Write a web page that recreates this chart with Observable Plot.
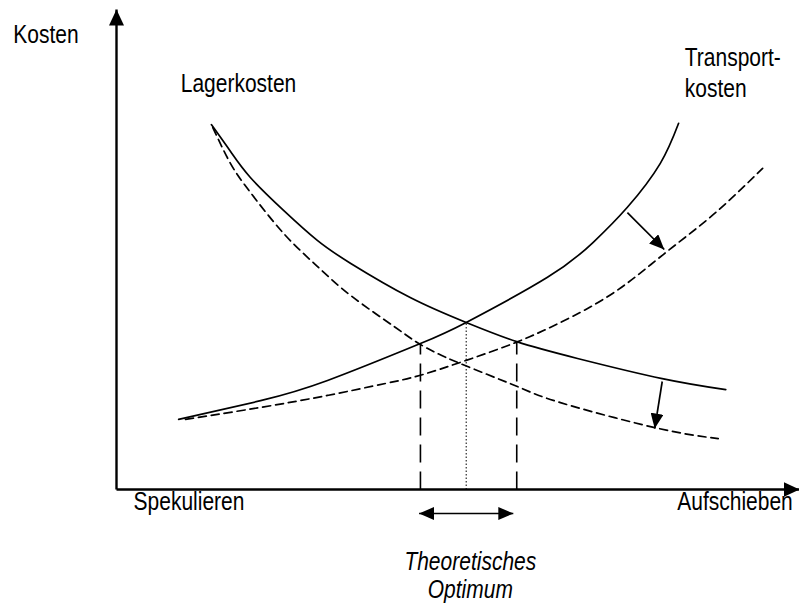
<!DOCTYPE html>
<html><head><meta charset="utf-8">
<script src="https://cdn.jsdelivr.net/npm/d3@7"></script>
<script src="https://cdn.jsdelivr.net/npm/@observablehq/plot@0.6"></script>
<style>
body{margin:0;background:#fff}
#chart svg{display:block;background:#fff}
</style>
</head><body><div id="chart"></div>
<script>
// --- data (conceptual units: x = Spekulieren → Aufschieben 0..100, y = Kosten 0..100)
const lagerX      = [13.9, 16.7, 19.6, 24.5, 29.4, 34.3, 43.0, 51.2, 58.6, 67.5, 79.9, 89.2];
const lagerY      = [76.0, 70.4, 65.0, 58.1, 51.9, 47.1, 40.0, 34.8, 30.8, 27.3, 23.1, 20.8];
const lagerNeuX   = [14.1, 16.7, 19.6, 24.5, 29.4, 34.3, 40.8, 44.5, 49.9, 58.6, 65.0, 78.8, 88.1];
const lagerNeuY   = [75.4, 67.9, 61.9, 53.3, 46.5, 40.4, 33.8, 30.2, 26.5, 21.5, 18.1, 12.9, 10.6];
const transX      = [9.1, 21.1, 30.9, 44.5, 51.2, 63.1, 69.8, 74.8, 79.6, 82.3];
const transY      = [14.6, 18.5, 22.7, 30.4, 34.8, 44.2, 51.5, 58.8, 67.9, 76.3];
const transNeuX   = [10.1, 21.1, 30.9, 39.4, 44.5, 51.2, 58.4, 65.0, 72.8, 80.1, 87.4, 94.6];
const transNeuY   = [14.6, 17.1, 19.6, 22.1, 23.8, 26.9, 30.6, 34.8, 41.0, 49.0, 57.3, 66.9];
// intersections of the curves
const grenzenX    = [44.5, 58.6];
const grenzenY    = [30.4, 30.8];
const optimumX    = 51.2;
const optimumY    = 34.8;
// shift arrows (from → to)
const shiftFromX  = [74.8, 79.9];
const shiftFromY  = [57.7, 22.5];
const shiftToX    = [80.2, 78.8];
const shiftToY    = [50.0, 12.7];
// range arrow
const bereichX    = [44.3, 58.1];
// labels
const labelTexts  = ["Kosten", "Lagerkosten", "Transport-\nkosten", "Spekulieren", "Aufschieben"];
const optimumText = "Theoretisches\nOptimum";

// --- layout
const labelPos = [
  {x: -15.1, y: 93.1}, {x: 9.4, y: 82.9}, {x: 83.2, y: 81.7}, {x: 2.5, y: -4.3}, {x: 82.1, y: -4.3}
];
const labels = labelTexts.map((t, i) => ({text: t, ...labelPos[i]}));

const toPts = (xs, ys) => xs.map((x, i) => ({x, y: ys[i]}));

function head(len, wid) {
  return (color, context) => {
    const doc = (context && context.document) || document;
    const ns = "http://www.w3.org/2000/svg";
    const m = doc.createElementNS(ns, "marker");
    m.setAttribute("viewBox", `${-len} ${-wid / 2} ${len} ${wid}`);
    m.setAttribute("markerWidth", len);
    m.setAttribute("markerHeight", wid);
    m.setAttribute("markerUnits", "userSpaceOnUse");
    m.setAttribute("orient", "auto-start-reverse");
    m.setAttribute("refX", 0);
    m.setAttribute("refY", 0);
    const p = doc.createElementNS(ns, "path");
    p.setAttribute("d", `M${-len},${-wid / 2}L0,0L${-len},${wid / 2}Z`);
    p.setAttribute("fill", "#000");
    p.setAttribute("stroke", "none");
    m.appendChild(p);
    return m;
  };
}

const font = "'Liberation Sans',Arial,sans-serif";
const curve = "natural";

const chart = Plot.plot({
  width: 799,
  height: 606,
  marginLeft: 116,
  marginRight: 0,
  marginTop: 9,
  marginBottom: 117,
  x: {domain: [0, 100], axis: null},
  y: {domain: [0, 100], axis: null},
  style: {fontFamily: font, background: "#fff"},
  marks: [
    // axes
    Plot.link([{x1: 0, y1: 0, x2: 0, y2: 100}, {x1: 0, y1: 0, x2: 100, y2: 0}],
      {x1: "x1", y1: "y1", x2: "x2", y2: "y2", stroke: "#000", strokeWidth: 2.4, markerEnd: head(16, 15)}),
    // curves
    Plot.line(toPts(lagerX, lagerY), {x: "x", y: "y", curve, stroke: "#000", strokeWidth: 1.7}),
    Plot.line(toPts(transX, transY), {x: "x", y: "y", curve, stroke: "#000", strokeWidth: 1.7}),
    Plot.line(toPts(lagerNeuX, lagerNeuY), {x: "x", y: "y", curve, stroke: "#000", strokeWidth: 1.7, strokeDasharray: "8,5"}),
    Plot.line(toPts(transNeuX, transNeuY), {x: "x", y: "y", curve, stroke: "#000", strokeWidth: 1.7, strokeDasharray: "8,5"}),
    // vertical boundaries
    Plot.link(grenzenX.map((x, i) => ({x, y: grenzenY[i]})),
      {x1: "x", x2: "x", y1: 0, y2: "y", stroke: "#000", strokeWidth: 1.6, strokeDasharray: "18,9"}),
    Plot.link([{x: optimumX, y: optimumY}],
      {x1: "x", x2: "x", y1: 0, y2: "y", stroke: "#000", strokeWidth: 1, strokeDasharray: "1.5,2"}),
    // shift arrows
    Plot.link(shiftFromX.map((x, i) => ({x1: x, y1: shiftFromY[i], x2: shiftToX[i], y2: shiftToY[i]})),
      {x1: "x1", y1: "y1", x2: "x2", y2: "y2", stroke: "#000", strokeWidth: 1.7, markerEnd: head(15, 13)}),
    // range arrow
    Plot.link([{x1: bereichX[0], x2: bereichX[1]}],
      {x1: "x1", x2: "x2", y1: -5, y2: -5, stroke: "#000", strokeWidth: 1.7, markerStart: head(15, 13), markerEnd: head(15, 13)}),
    // labels
    Plot.text(labels, {x: "x", y: "y", text: "text", textAnchor: "start", lineAnchor: "bottom", lineHeight: 1.24, fontSize: 25, fill: "#000"}),
    Plot.text([{text: optimumText}], {x: 51.8, y: -22.7, text: "text", textAnchor: "middle", lineAnchor: "bottom", lineHeight: 1.12, fontSize: 25, fontStyle: "italic", fill: "#000"})
  ]
});

// narrow the type (the reference uses a condensed sans face)
chart.querySelectorAll('g[aria-label="text"] > text').forEach(t => {
  let tr = t.getAttribute("transform") || "";
  const x = t.getAttribute("x"), y = t.getAttribute("y");
  if (x != null || y != null) {
    t.removeAttribute("x"); t.removeAttribute("y");
    tr = `translate(${x || 0},${y || 0}) ` + tr;
  }
  t.setAttribute("transform", tr + " scale(0.84,1)");
});
document.getElementById("chart").appendChild(chart);
</script>
</body></html>
